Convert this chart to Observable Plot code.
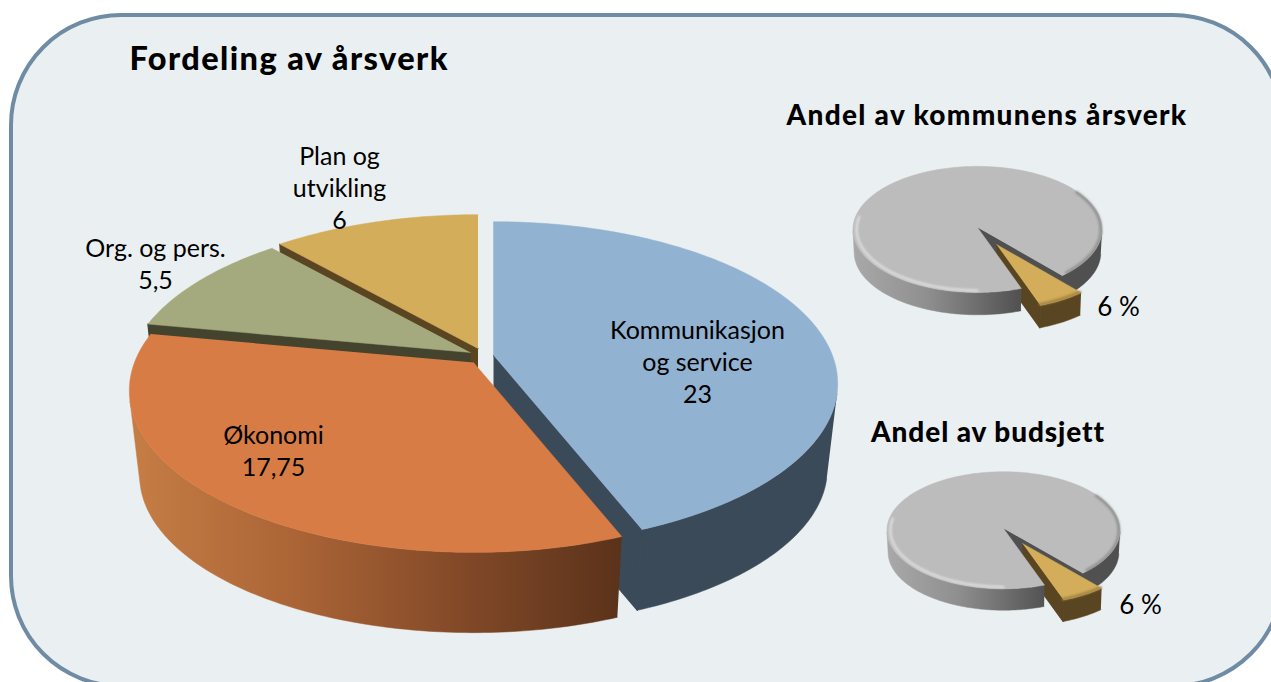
<!DOCTYPE html>
<html>
<head>
<meta charset="utf-8">
<script src="https://cdn.jsdelivr.net/npm/d3@7"></script>
<script src="https://cdn.jsdelivr.net/npm/@observablehq/plot@0.6"></script>
<style>html,body{margin:0;padding:0;background:#fff}svg{display:block}</style>
</head>
<body>
<script>
// ---- data ----
const mainCategories = ["Kommunikasjon\nog service", "Økonomi", "Org. og pers.", "Plan og\nutvikling"];
const mainValues = [23, 17.75, 5.5, 6];
const mainTitle = "Fordeling av årsverk";
const shareTitles = ["Andel av kommunens årsverk", "Andel av budsjett"];
const shareValues = [[94, 6], [94, 6]];
const shareSuffix = " %";

// ---- layout (projection of the tilted discs, not data) ----
const bigDisc = {rx: 339, ry: 157, k: 0.173, d: 86, s: 0.97, side: 103.5};
const bigApex = [[493, 355], [473, 362], [470, 352], [477.5, 348]];
const bigTop = ["#92b2d1", "#d87c45", "#a4a97e", "#d3ad5a"];
const bigWall = ["#3b4a58", "url(#wallOrange)", "#43432e", "#5a4522"];
const bigRadial = ["#3b4a58", "#43432e", "#43432e", "#5a4522"];
const bigLabels = [[697, 361], [273, 450], [155, 263], [339, 187]];
const smallDiscs = [
  {rx: 124.5, ry: 63, k: 0.03, d: 23, s: 0.99, side: 93.5, gray: [977, 227], gold: [996, 244], grad: "wallGray1", label: [1118, 307], title: [986.5, 115]},
  {rx: 116.5, ry: 58.5, k: 0.03, d: 22, s: 0.99, side: 93.5, gray: [1003, 528], gold: [1022, 543], grad: "wallGray2", label: [1140, 605], title: [987.5, 432]}
];
const titleSpacing = {[mainTitle]: "1.4px", [shareTitles[0]]: "1.3px", [shareTitles[1]]: "0.9px"};

const FONT = "Lato, Carlito, sans-serif";
const TITLE = "Lato, sans-serif";
const rad = d => d * Math.PI / 180;

function proj(disc, apex, t, lower = false, r = 1) {
  const u = r * Math.sin(t), v = -r * Math.cos(t), w = 1 - disc.k * v;
  const s = lower ? disc.s : 1;
  return {x: apex[0] + s * disc.rx * u / w, y: apex[1] + s * disc.ry * v / w + (lower ? disc.d : 0)};
}
function arc(disc, apex, a, b, lower = false, r = 1) {
  const n = Math.max(2, Math.ceil(Math.abs(b - a) * 60));
  return d3.range(n + 1).map(i => proj(disc, apex, a + (b - a) * i / n, lower, r));
}
const poly = (pts, fill, sw = 0.5) => Plot.line(pts, {x: "x", y: "y", fill, stroke: fill, strokeWidth: sw});
const stroke = (pts, color, width, opacity = 1, blur = 0) => Plot.line(pts, {x: "x", y: "y", stroke: color, strokeWidth: width, strokeOpacity: opacity, fill: "none", imageFilter: blur ? `blur(${blur}px)` : undefined});
const apexPt = (a, lower, disc) => lower ? {x: a[0], y: a[1] + disc.d} : {x: a[0], y: a[1]};

function radialWall(disc, apex, t, fill) {
  return poly([apexPt(apex, false, disc), proj(disc, apex, t), proj(disc, apex, t, true), apexPt(apex, true, disc)], fill, 1.2);
}
function outerWall(disc, apex, a, b, fill) {
  return poly([...arc(disc, apex, a, b), ...arc(disc, apex, b, a, true)], fill);
}
function topFace(disc, apex, a, b, fill) {
  return poly([apexPt(apex, false, disc), ...arc(disc, apex, a, b)], fill);
}

// gradients
function defsMark() {
  const ns = "http://www.w3.org/2000/svg";
  const defs = document.createElementNS(ns, "defs");
  const add = (id, x1, x2, stops) => {
    const g = document.createElementNS(ns, "linearGradient");
    g.setAttribute("id", id); g.setAttribute("gradientUnits", "userSpaceOnUse");
    g.setAttribute("x1", x1); g.setAttribute("x2", x2); g.setAttribute("y1", 0); g.setAttribute("y2", 0);
    stops.forEach(([o, c]) => {
      const s = document.createElementNS(ns, "stop");
      s.setAttribute("offset", o); s.setAttribute("stop-color", c); g.appendChild(s);
    });
    defs.appendChild(g);
  };
  add("wallOrange", 130, 622, [[0, "#c67d45"], [0.35, "#a96335"], [0.7, "#7f4727"], [1, "#5a321a"]]);
  add("wallGray1", 852, 1018, [[0, "#a9a9a9"], [0.45, "#8f8f8f"], [1, "#525252"]]);
  add("wallGray2", 886, 1045, [[0, "#a9a9a9"], [0.45, "#8f8f8f"], [1, "#525252"]]);
  return defs;
}

// ---- big pie ----
const bigArcs = d3.pie().sort(null)(mainValues);
const bigMarks = [];
for (const i of [3, 2, 0, 1]) {
  const {startAngle: a, endAngle: b} = bigArcs[i];
  const ap = bigApex[i];
  const a1 = Math.max(a, rad(bigDisc.side)), b1 = Math.min(b, rad(360 - bigDisc.side));
  if (a1 < b1) bigMarks.push(outerWall(bigDisc, ap, a1, b1, bigWall[i]));
  if (i !== 1) bigMarks.push(radialWall(bigDisc, ap, i === 0 ? b : a, bigRadial[i]));
  bigMarks.push(topFace(bigDisc, ap, a, b, bigTop[i]));
}

// ---- small pies ----
const smallMarks = [];
smallDiscs.forEach((disc, j) => {
  const vals = shareValues[j];
  const start = rad(160);
  const arcs = d3.pie().sort(null).startAngle(start).endAngle(start + 2 * Math.PI)(vals);
  const g = arcs[0], s = arcs[1];
  const tau = Math.PI * 2;
  // back: dark wall inside the notch and right-hand rim
  smallMarks.push(outerWall(disc, disc.gray, rad(disc.side) + tau, g.endAngle, "#505050"));
  smallMarks.push(radialWall(disc, disc.gray, g.endAngle, "#505050"));
  // exploded slice
  smallMarks.push(outerWall(disc, disc.gold, s.startAngle, s.endAngle, "#5a4522"));
  smallMarks.push(radialWall(disc, disc.gold, s.endAngle, "#5a4522"));
  smallMarks.push(topFace(disc, disc.gold, s.startAngle, s.endAngle, "#d3ad5a"));
  smallMarks.push(stroke(arc(disc, disc.gold, s.startAngle, s.endAngle, false, 0.985), "#8f7339", 3, 0.7, 1));
  // front wall, gray top and bevel
  smallMarks.push(outerWall(disc, disc.gray, g.startAngle, rad(360 - disc.side), "url(#" + disc.grad + ")"));
  smallMarks.push(topFace(disc, disc.gray, g.startAngle, g.endAngle, "#bcbcbc"));
  smallMarks.push(stroke(arc(disc, disc.gray, g.startAngle + 0.35, rad(280), false, 0.97), "#ffffff", 2.5, 0.5, 1));
  smallMarks.push(stroke(arc(disc, disc.gray, rad(55) + tau, g.endAngle - 0.06, false, 0.99), "#5f5f5f", 3, 0.45, 1.2));
});

// ---- text ----
const bigLabelRows = mainCategories.map((c, i) => ({
  text: c + "\n" + String(mainValues[i]).replace(".", ","),
  x: bigLabels[i][0], y: bigLabels[i][1] - 1
}));
const shareLabelRows = smallDiscs.map((d, j) => ({
  text: shareValues[j][1] + shareSuffix, x: d.label[0], y: d.label[1]
}));
const titleRows = [
  {text: mainTitle, x: 129, y: 59, size: 32.5, anchor: "start"},
  {text: shareTitles[0], x: smallDiscs[0].title[0], y: smallDiscs[0].title[1] + 1, size: 28, anchor: "middle"},
  {text: shareTitles[1], x: smallDiscs[1].title[0], y: smallDiscs[1].title[1] + 1, size: 28, anchor: "middle"}
];

const chart = Plot.plot({
  width: 1271, height: 682,
  margin: 0,
  style: {background: "#fff", overflow: "hidden"},
  x: {domain: [0, 1271], range: [0, 1271], axis: null},
  y: {domain: [0, 682], range: [0, 682], axis: null},
  marks: [
    defsMark,
    Plot.rect([{x1: 11, y1: 15, x2: 1283, y2: 686}], {x1: "x1", x2: "x2", y1: "y1", y2: "y2", rx: 110, fill: "#eaf0f1", stroke: "#6f8ca4", strokeWidth: 4}),
    ...bigMarks,
    ...smallMarks,
    Plot.text(bigLabelRows, {x: "x", y: "y", text: "text", fontFamily: FONT, fontSize: 25, lineHeight: 1.28, fill: "#000", textAnchor: "middle"}),
    Plot.text(shareLabelRows, {x: "x", y: "y", text: "text", fontFamily: FONT, fontSize: 26, fill: "#000", textAnchor: "middle"}),
    ...titleRows.map(t => Plot.text([t], {x: "x", y: "y", text: "text", fontFamily: TITLE, fontWeight: 900, fontSize: t.size, fill: "#000", textAnchor: t.anchor}))
  ]
});
d3.select(chart).selectAll("text").each(function () {
  const sp = titleSpacing[this.textContent];
  if (sp) this.style.letterSpacing = sp;
});
document.body.appendChild(chart);
</script>
</body>
</html>
